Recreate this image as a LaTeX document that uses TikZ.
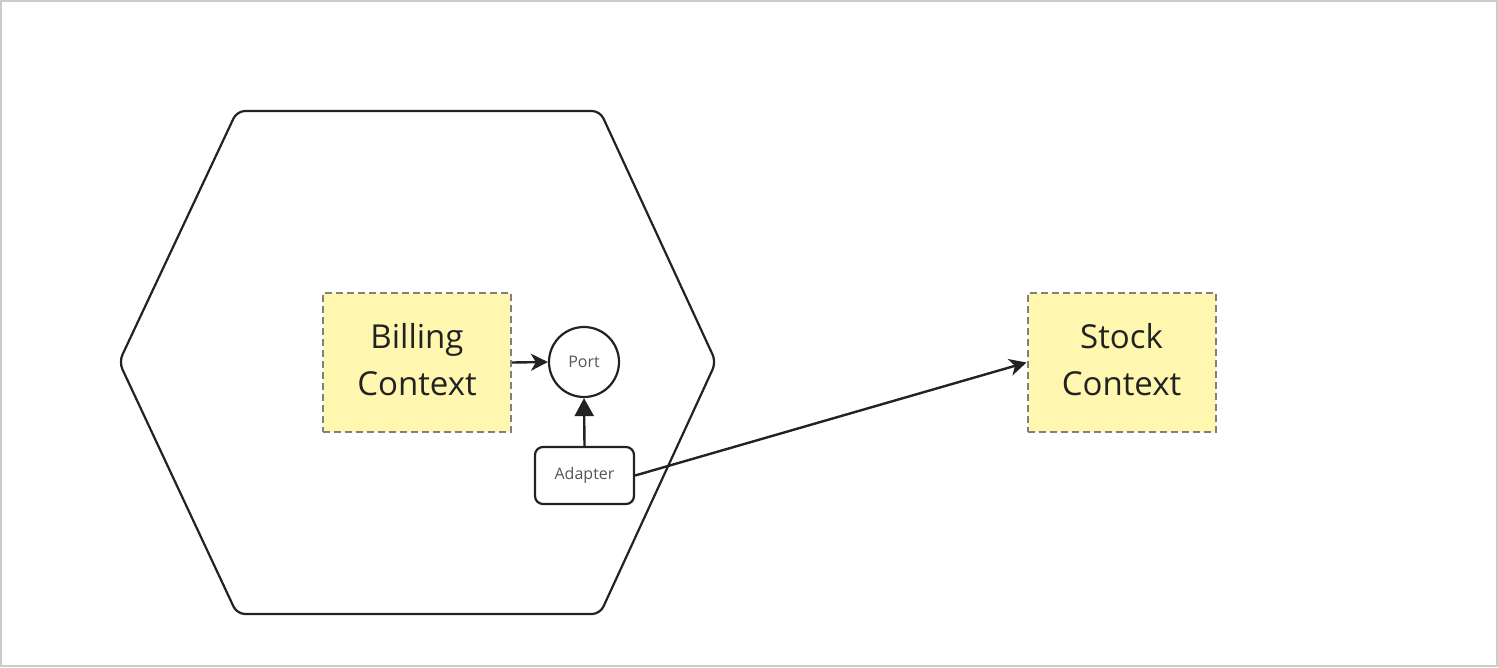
\documentclass[tikz,border=0pt]{standalone}
\usepackage{fontspec}
\setmainfont{Open Sans}
\usetikzlibrary{arrows.meta}
\definecolor{ink}{HTML}{222222}
\definecolor{frame}{HTML}{CCCCCC}
\definecolor{note}{HTML}{FFF7B0}
\definecolor{dash}{HTML}{808080}
\definecolor{soft}{HTML}{555555}
\tikzset{
  contextbox/.style={draw=dash, dash pattern=on 7pt off 4pt, line width=2pt,
    fill=note, minimum width=188pt, minimum height=139pt, inner sep=0pt},
  contexttext/.style={align=center, text=ink, inner sep=0pt,
    font=\fontsize{33}{47}\selectfont},
  portnode/.style={draw=ink, circle, line width=2.2pt, minimum size=70pt, inner sep=0pt,
    text=soft, font=\fontsize{16}{19}\selectfont},
  adapternode/.style={draw=ink, rounded corners=8pt, line width=2.2pt,
    minimum width=99pt, minimum height=57pt, inner sep=0pt,
    text=soft, font=\fontsize{16}{19}\selectfont},
  link/.style={draw=ink, line width=2.4pt, -{Stealth[length=17pt,width=17pt,inset=5pt]}},
  uplink/.style={draw=ink, line width=2.4pt, -{Triangle[length=18pt,width=19pt]}},
}
\begin{document}
\begin{tikzpicture}[x=1pt,y=-1pt]
  \useasboundingbox (0,0) rectangle (1498,667);
  % outer frame
  \draw[frame, line width=2pt] (1,1) rectangle (1497,666);
  % application hexagon
  \draw[ink, line width=2.2pt, rounded corners=8pt]
    (237,111) -- (600,111) -- (716,362) -- (600,614) -- (237,614) -- (119,362) -- cycle;
  % bounded contexts
  \node[contextbox] (billing) at (417,362.5) {};
  \node[contextbox] (stock) at (1121.5,362.5) {};
  \node[contexttext] (billingtext) at ([yshift=3pt]billing.center) {Billing\\Context};
  \node[contexttext] (stocktext) at ([yshift=3pt]stock.center) {Stock\\Context};
  % port and adapter
  \node[portnode] (port) at (584,362) {Port};
  \node[adapternode] (adapter) at (584.5,475.5) {Adapter};
  % connectors
  \draw[link] (billing.east) -- (port.west);
  \draw[uplink] (adapter.north) -- (port.south);
  \draw[link] (adapter.east) -- (stock.west);
\end{tikzpicture}
\end{document}
